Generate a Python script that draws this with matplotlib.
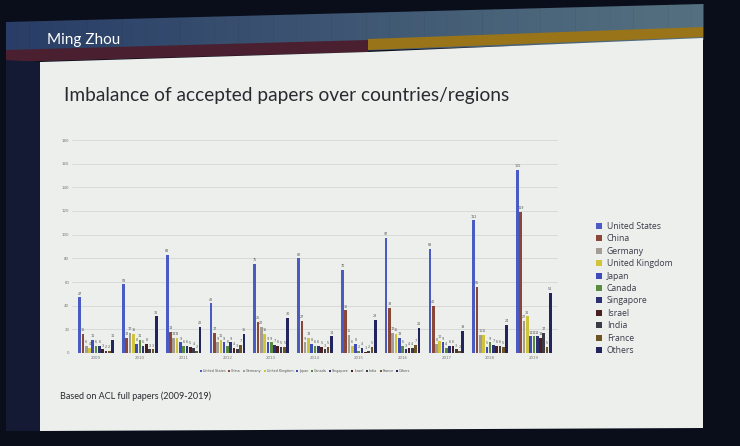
import matplotlib
matplotlib.use("Agg")
import matplotlib.pyplot as plt
import numpy as np
from matplotlib.patches import Polygon

years = ["2009", "2010", "2011", "2012", "2013", "2014", "2015", "2016", "2017", "2018", "2019"]
countries = ["United States", "China", "Germany", "United Kingdom", "Japan", "Canada",
             "Singapore", "Israel", "India", "France", "Others"]

united_states = [47, 58, 83, 42, 75, 80, 70, 97, 88, 112, 155]
china = [16, 13, 18, 17, 26, 27, 36, 38, 40, 56, 119]
germany = [6, 17, 13, 9, 22, 9, 15, 17, 8, 15, 27]
united_kingdom = [4, 16, 13, 11, 16, 13, 6, 16, 10, 15, 31]
japan = [11, 8, 9, 9, 9, 8, 8, 13, 9, 5, 14]
canada = [6, 11, 6, 6, 9, 6, 2, 6, 4, 9, 14]
singapore = [6, 6, 6, 9, 7, 6, 4, 3, 6, 7, 14]
israel = [3, 8, 5, 4, 6, 5, 1, 4, 6, 6, 13]
india = [2, 3, 4, 3, 5, 3, 2, 4, 3, 6, 17]
france = [2, 3, 2, 7, 5, 5, 5, 7, 2, 5, 5]
others = [11, 31, 22, 16, 30, 14, 28, 21, 19, 24, 51]

series = [united_states, china, germany, united_kingdom, japan, canada,
          singapore, israel, india, france, others]
colors = ["#4a5cc4", "#8a4636", "#a39d94", "#cfc43c", "#3d4cb8", "#5b8c3e",
          "#2c3174", "#4a1f22", "#3b3b48", "#6e5324", "#23245e"]

W, H = 740, 446
fig = plt.figure(figsize=(7.4, 4.46), dpi=100)
fig.patch.set_facecolor("#0a0d1a")

def P(x, y):
    return (x / W, 1 - y / H)

def poly(pts, color, z=-5):
    fig.patches.append(Polygon([P(*p) for p in pts], closed=True, transform=fig.transFigure,
                               facecolor=color, edgecolor="none", zorder=z))

def yedge(x, y_left, y_right, x0=6, x1=703):
    return y_left + (y_right - y_left) * (x - x0) / (x1 - x0)

# header gradient (dark blue -> steel)
c0 = np.array([0.16, 0.24, 0.40])
c1 = np.array([0.33, 0.44, 0.50])
nstrip = 60
xs = np.linspace(6, 703, nstrip + 1)
for k in range(nstrip):
    xa, xb = xs[k], xs[k + 1] + 0.5
    t = k / (nstrip - 1)
    col = c0 * (1 - t) + c1 * t
    poly([(xa, yedge(xa, 22, 4)), (xb, yedge(xb, 22, 4)),
          (xb, yedge(xb, 62, 40)), (xa, yedge(xa, 62, 40))], tuple(col), -9)

poly([(6, 50), (368, 40), (368, 52), (6, 62)], "#4a2030", -8)
poly([(368, 39), (703, 27), (703, 37), (368, 50)], "#9a7418", -8)
poly([(40, 62), (368, 52), (703, 38), (703, 428), (40, 431)], "#ecefec", -7)
poly([(6, 60), (40, 62), (40, 431), (6, 431)], "#141a33", -7)

fig.text(*P(47, 40), "Ming Zhou", color="white", fontsize=11, family="Lato",
         va="center", ha="left")
fig.text(*P(64, 95), "Imbalance of accepted papers over countries/regions", color="#2a2a30",
         fontsize=13.8, family="Lato", va="center", ha="left")
fig.text(*P(60, 396), "Based on ACL full papers (2009-2019)", color="#2a2a30",
         fontsize=6.5, family="Lato", va="center", ha="left")

ax = fig.add_axes([72 / W, 1 - 353 / H, (558 - 72) / W, (353 - 140) / H])
ax.set_zorder(5)
ax.set_facecolor("none")
x = np.arange(len(years))
n = len(series)
bw = 0.075
handles = []
for i, (vals, c) in enumerate(zip(series, colors)):
    pos = x - (n - 1) / 2 * bw + i * bw
    b = ax.bar(pos, vals, width=bw * 0.8, color=c, zorder=3, label=countries[i])
    handles.append(b)
    for px_, v in zip(pos, vals):
        ax.text(px_, v + 1.5, str(v), fontsize=2.4, color="#555555", ha="center",
                va="bottom", zorder=4)

ax.set_ylim(0, 180)
ax.set_yticks(np.arange(0, 181, 20))
ax.set_xticks(x)
ax.set_xticklabels(years)
ax.set_xlim(-0.55, len(years) - 0.45)
ax.tick_params(axis="both", labelsize=2.8, colors="#777777", length=0, pad=2)
ax.grid(axis="y", color="#d5d7d6", linewidth=0.6, zorder=0)
for s in ax.spines.values():
    s.set_visible(False)
ax.axhline(0, color="#bbbbbb", linewidth=0.6, zorder=2)

ax.legend(handles=handles, loc="upper center", bbox_to_anchor=(0.48, -0.06), ncol=11,
          fontsize=2.4, frameon=False, handlelength=0.6, handleheight=0.6,
          columnspacing=0.7, handletextpad=0.3, labelcolor="#555555")

lg = fig.legend(handles=handles, labels=countries, loc="upper left",
                bbox_to_anchor=P(588, 214), frameon=False,
                handlelength=0.7, handleheight=0.7, handletextpad=0.6,
                labelspacing=0.4, labelcolor="#3a3a48",
                prop={"family": "Open Sans", "size": 6.2})
lg.set_zorder(6)

fig.savefig("out.png", dpi=100, facecolor=fig.get_facecolor())
